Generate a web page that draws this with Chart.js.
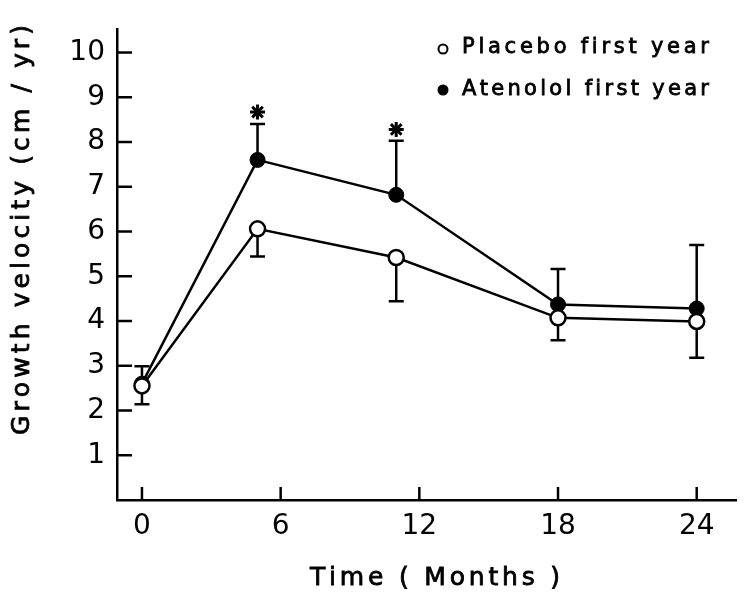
<!DOCTYPE html>
<html>
<head>
<meta charset="utf-8">
<script src="https://cdn.jsdelivr.net/npm/chart.js@4.4.1/dist/chart.umd.min.js"></script>
<style>
  body { margin: 0; background: #fff; }
  canvas { display: block; }
</style>
</head>
<body>
<canvas id="growthChart" width="746" height="592"></canvas>
<script>
// values
const months = [0, 5, 11, 18, 24];
const placebo = [2.55, 6.06, 5.42, 4.07, 3.99];
const placeboLow = [2.14, 5.44, 4.44, 3.57, 3.18];
const atenolol = [2.6, 7.6, 6.82, 4.37, 4.28];
const atenololHigh = [2.99, 8.40, 8.03, 5.16, 5.7];
const starAt = [null, 8.67, 8.28, null, null];
const xTicks = [0, 6, 12, 18, 24];
const yTicks = [1, 2, 3, 4, 5, 6, 7, 8, 9, 10];

const FONT = '"DejaVu Sans", sans-serif';
const LW = 2.5;

// draws text stretched to a given width by spacing the letters (a thin stroke makes it a bit heavier)
function spacedText(ctx, text, x, y, width) {
  const chars = [...text];
  const natural = chars.reduce((s, c) => s + ctx.measureText(c).width, 0);
  const gap = (width - natural) / (chars.length - 1);
  let cx = x;
  chars.forEach(c => {
    ctx.fillText(c, cx, y);
    ctx.strokeText(c, cx, y);
    cx += ctx.measureText(c).width + gap;
  });
}

const decor = {
  id: 'decor',
  beforeDatasetsDraw(chart) {
    const ctx = chart.ctx;
    const xs = chart.scales.x, ys = chart.scales.y;
    const area = chart.chartArea;
    ctx.save();
    ctx.strokeStyle = '#000';
    ctx.lineWidth = LW;
    // inward ticks
    xTicks.forEach(v => {
      const px = xs.getPixelForValue(v);
      ctx.beginPath();
      ctx.moveTo(px, area.bottom);
      ctx.lineTo(px, area.bottom - 13);
      ctx.stroke();
    });
    yTicks.forEach(v => {
      const py = ys.getPixelForValue(v);
      ctx.beginPath();
      ctx.moveTo(area.left, py);
      ctx.lineTo(area.left + 15, py);
      ctx.stroke();
    });
    // error bars: atenolol upward, placebo downward
    months.forEach((m, i) => {
      const px = xs.getPixelForValue(m);
      [[atenolol[i], atenololHigh[i]], [placebo[i], placeboLow[i]]].forEach(([a, b]) => {
        const y1 = ys.getPixelForValue(a), y2 = ys.getPixelForValue(b);
        ctx.beginPath();
        ctx.moveTo(px, y1);
        ctx.lineTo(px, y2);
        ctx.moveTo(px - 7.5, y2);
        ctx.lineTo(px + 7.5, y2);
        ctx.stroke();
      });
    });
    ctx.restore();
  },
  afterDatasetsDraw(chart) {
    const ctx = chart.ctx;
    const xs = chart.scales.x, ys = chart.scales.y;
    ctx.save();
    ctx.strokeStyle = '#000';
    ctx.lineWidth = 3;
    starAt.forEach((v, i) => {
      if (v === null) return;
      const px = xs.getPixelForValue(months[i]);
      const py = ys.getPixelForValue(v);
      for (let k = 0; k < 4; k++) {
        const a = k * Math.PI / 4;
        ctx.beginPath();
        ctx.moveTo(px - 7.5 * Math.cos(a), py - 7.5 * Math.sin(a));
        ctx.lineTo(px + 7.5 * Math.cos(a), py + 7.5 * Math.sin(a));
        ctx.stroke();
      }
    });
    ctx.restore();
  },
  afterDraw(chart) {
    const ctx = chart.ctx;
    ctx.save();
    ctx.fillStyle = '#000';
    ctx.strokeStyle = '#000';
    ctx.lineWidth = 0.8;
    ctx.textBaseline = 'middle';
    ctx.textAlign = 'left';

    // axis titles
    ctx.font = '25px ' + FONT;
    spacedText(ctx, 'Time ( Months )', 435 - 125, 578, 250);
    ctx.save();
    ctx.translate(22, 230);
    ctx.rotate(-Math.PI / 2);
    spacedText(ctx, 'Growth velocity (cm / yr)', -205, 0, 410);
    ctx.restore();

    // legend
    ctx.font = '21px ' + FONT;
    spacedText(ctx, 'Placebo first year', 462, 48, 247);
    spacedText(ctx, 'Atenolol first year', 462, 90, 247);
    ctx.lineWidth = 2;
    ctx.beginPath();
    ctx.arc(443, 49, 4.5, 0, Math.PI * 2);
    ctx.fillStyle = '#fff';
    ctx.fill();
    ctx.stroke();
    ctx.beginPath();
    ctx.arc(443, 90, 5.5, 0, Math.PI * 2);
    ctx.fillStyle = '#000';
    ctx.fill();
    ctx.restore();
  }
};

const ctx = document.getElementById('growthChart').getContext('2d');

new Chart(ctx, {
  type: 'line',
  data: {
    datasets: [
      {
        label: 'Placebo first year',
        data: months.map((m, i) => ({ x: m, y: placebo[i] })),
        borderColor: '#000',
        borderWidth: LW,
        pointRadius: 7.5,
        pointBackgroundColor: '#fff',
        pointBorderColor: '#000',
        pointBorderWidth: 2.5,
        tension: 0
      },
      {
        label: 'Atenolol first year',
        data: months.map((m, i) => ({ x: m, y: atenolol[i] })),
        borderColor: '#000',
        borderWidth: LW,
        pointRadius: 7.5,
        pointBackgroundColor: '#000',
        pointBorderColor: '#000',
        pointBorderWidth: 1,
        tension: 0
      }
    ]
  },
  options: {
    responsive: false,
    animation: false,
    devicePixelRatio: 1,
    layout: { padding: { top: 7, right: 1, left: 0, bottom: 0 } },
    plugins: {
      legend: { display: false },
      tooltip: { enabled: false }
    },
    scales: {
      x: {
        type: 'linear',
        min: -1.08,
        max: 25.7,
        afterBuildTicks: s => { s.ticks = xTicks.map(v => ({ value: v })); },
        afterFit: s => { s.height = 92; },
        grid: { display: false, drawTicks: false },
        border: { color: '#000', width: LW },
        ticks: { color: '#000', font: { family: FONT, size: 28 }, padding: 10, maxRotation: 0, autoSkip: false }
      },
      y: {
        type: 'linear',
        min: 0,
        max: 10.53,
        afterBuildTicks: s => { s.ticks = yTicks.map(v => ({ value: v })); },
        afterFit: s => { s.width = 117; },
        grid: { display: false, drawTicks: false },
        border: { color: '#000', width: LW },
        ticks: { color: '#000', font: { family: FONT, size: 28 }, padding: 12, autoSkip: false }
      }
    }
  },
  plugins: [decor]
});
</script>
</body>
</html>
